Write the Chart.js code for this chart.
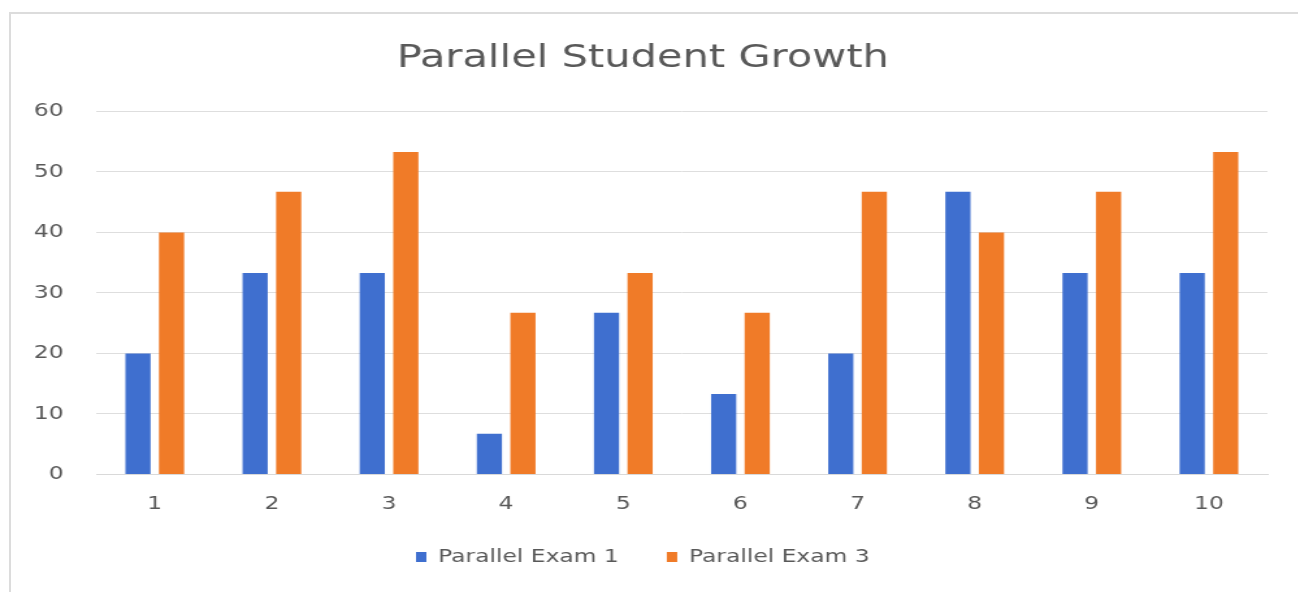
<!DOCTYPE html>
<html lang="en">
<head>
    <meta charset="UTF-8">
    <title>Parallel Student Growth</title>
    <style>
        body{ margin: 0; background: #fff; overflow: hidden; }
        #moldura{
            position: absolute; left: 9px; top: 12px;
            width: 1300px; height: 600px;
            border-left: 2px solid #dcdcdc;
            border-top: 2px solid #dcdcdc;
        }
        /* o grafico original esta esticado na horizontal */
        #caixa{
            position: absolute; left: 0; top: 0;
            width: 999px; height: 592px;
            transform: scaleX(1.3);
            transform-origin: 0 0;
        }
    </style>
</head>
<body>
    <div id="moldura"></div>
    <div id="caixa">
        <canvas id="grafico1"></canvas>
    </div>

    <script src="https://cdn.jsdelivr.net/npm/chart.js"></script>

<script>
  // dados
  const alunos = ["1", "2", "3", "4", "5", "6", "7", "8", "9", "10"];
  const exame1 = [20, 33.3, 33.3, 6.7, 26.7, 13.3, 20, 46.7, 33.3, 33.3];
  const exame3 = [40, 46.7, 53.3, 26.7, 33.3, 26.7, 46.7, 40, 46.7, 53.3];
  const nomes = ["Parallel Exam 1", "Parallel Exam 3"];
  const eixoY = { min: 0, max: 60, passo: 10 };

  const cinza = '#595959';
  const fonte = 'DejaVu Sans';

  const ctx = document.getElementById('grafico1');

  new Chart(ctx, {
    type: 'bar',
    data: {
      labels: alunos,
      datasets: [
        { label: nomes[0], data: exame1, backgroundColor: '#3F6FCF' },
        { label: nomes[1], data: exame3, backgroundColor: '#F07B28' }
      ]
    },
    options: {
      responsive: true,
      maintainAspectRatio: false,
      animation: false,
      categoryPercentage: 0.573,
      barPercentage: 0.75,
      layout: { padding: { left: 14, right: 24, top: 0, bottom: 16 } },
      plugins: {
        title: {
          display: true,
          text: 'Parallel Student Growth',
          color: cinza,
          font: { family: fonte, size: 32, weight: 'normal' },
          padding: { top: 39, bottom: 34 }
        },
        legend: {
          position: 'bottom',
          labels: {
            color: cinza,
            font: { family: fonte, size: 18 },
            boxWidth: 8,
            boxHeight: 10,
            padding: 14,
            // mais espaco entre os dois itens da legenda
            generateLabels: function(chart){
              const itens = Chart.defaults.plugins.legend.labels.generateLabels(chart);
              itens[0].text = itens[0].text + '    ';
              return itens;
            }
          }
        },
        tooltip: { enabled: false }
      },
      scales: {
        x: {
          grid: { display: false, drawTicks: false },
          border: { color: '#d9d9d9' },
          ticks: { color: cinza, font: { family: fonte, size: 18 }, padding: 19 }
        },
        y: {
          min: eixoY.min,
          max: eixoY.max,
          ticks: { stepSize: eixoY.passo, color: cinza, font: { family: fonte, size: 18 }, padding: 25 },
          grid: { color: '#dedede', drawTicks: false },
          border: { display: false },
          afterFit: function(scale){ scale.width = 60; }
        }
      }
    }
  });
</script>
</body>
</html>
